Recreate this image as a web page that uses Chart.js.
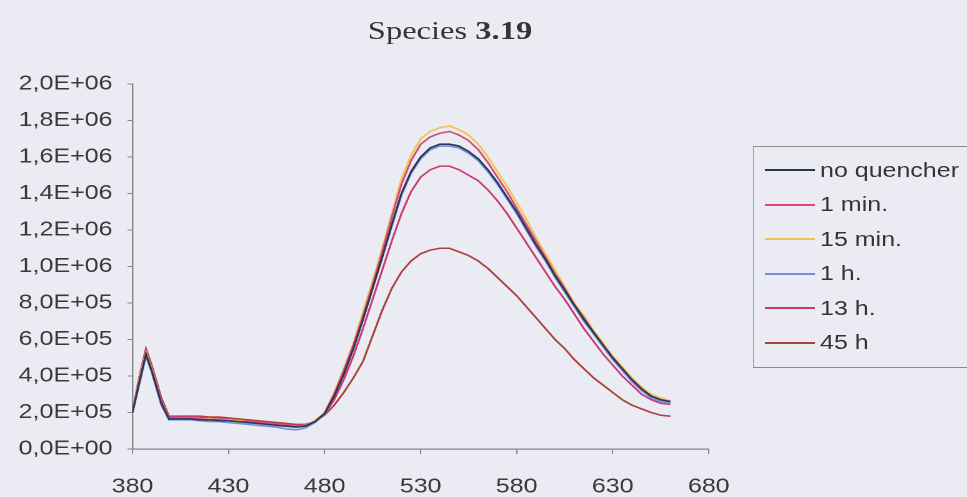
<!DOCTYPE html>
<html>
<head>
<meta charset="utf-8">
<script src="https://cdn.jsdelivr.net/npm/chart.js@4/dist/chart.umd.min.js"></script>
<style>
  html, body { margin: 0; padding: 0; background: #ebebf3; overflow: hidden; }
  body { width: 967px; height: 497px; position: relative; }
  #wrap {
    position: absolute; left: 0; top: 0;
    width: 774px; height: 497px;
    transform: scaleX(1.25); transform-origin: 0 0;
  }
  #box { position: absolute; left: 0; top: 0; width: 774px; height: 497px; }
  #title {
    position: absolute; left: 0; width: 720px; top: 16px;
    text-align: center; font-family: "Liberation Serif", "Times New Roman", serif;
    font-size: 26px; color: #333338;
  }
  #legend {
    position: absolute; left: 602px; top: 146px; width: 200px; height: 222px;
    border: 1px solid #8a8a90; border-right: none; box-sizing: border-box;
    font-family: "Liberation Sans", Arial, sans-serif; font-size: 20px; color: #333338;
    padding-top: 6px;
  }
  .item { height: 34.5px; display: flex; align-items: center; }
  .swatch { width: 40px; height: 0; border-top: 2px solid; margin-left: 9px; margin-right: 4px; }
</style>
</head>
<body>
<div id="wrap">
  <div id="box"><canvas id="c"></canvas></div>
  <div id="title">Species <b>3.19</b></div>
  <div id="legend"></div>
</div>
<script>
// Emission wavelengths (nm)
const wavelengths = [380, 383, 387, 390, 395, 399,
  405, 410, 415, 420, 425, 430, 435, 440, 445, 450,
  455, 460, 465, 470, 475, 480, 485, 490, 495, 500,
  505, 510, 515, 520, 525, 530, 535, 540, 545, 550,
  555, 560, 565, 570, 575, 580, 585, 590, 595, 600,
  605, 610, 615, 620, 625, 630, 635, 640, 645, 650,
  655, 660];

// Intensities, in units of 1E+05
const UNIT = 1e5;
const noQuencher = [2.0, 3.4, 5.2, 4.3, 2.5, 1.65,
  1.65, 1.65, 1.6, 1.6, 1.55, 1.55, 1.5, 1.45, 1.4, 1.35,
  1.3, 1.25, 1.2, 1.25, 1.5, 1.95, 2.9, 4.1, 5.5, 7.1,
  8.8, 10.5, 12.3, 14.0, 15.2, 16.0, 16.5, 16.7, 16.7, 16.6,
  16.3, 15.9, 15.3, 14.6, 13.8, 13.0, 12.1, 11.2, 10.4, 9.5,
  8.7, 7.9, 7.1, 6.4, 5.7, 5.0, 4.4, 3.8, 3.3, 2.9,
  2.7, 2.6];
const min1 = [2.0, 3.5, 5.2, 4.3, 2.6, 1.7,
  1.7, 1.7, 1.65, 1.6, 1.6, 1.55, 1.5, 1.5, 1.45, 1.4,
  1.35, 1.3, 1.25, 1.3, 1.5, 1.95, 3.0, 4.3, 5.7, 7.3,
  9.0, 10.8, 12.7, 14.5, 15.8, 16.7, 17.1, 17.3, 17.4, 17.2,
  16.9, 16.4, 15.7, 14.9, 14.1, 13.2, 12.3, 11.4, 10.5, 9.6,
  8.8, 7.9, 7.2, 6.4, 5.7, 5.0, 4.4, 3.8, 3.3, 2.9,
  2.7, 2.6];
const min15 = [2.0, 3.6, 5.3, 4.4, 2.6, 1.7,
  1.7, 1.7, 1.65, 1.65, 1.6, 1.6, 1.55, 1.5, 1.45, 1.4,
  1.35, 1.3, 1.25, 1.3, 1.55, 2.0, 3.1, 4.4, 5.8, 7.5,
  9.2, 11.0, 12.9, 14.8, 16.1, 17.0, 17.4, 17.6, 17.7, 17.5,
  17.2, 16.7, 16.0, 15.2, 14.4, 13.5, 12.6, 11.6, 10.7, 9.8,
  8.9, 8.0, 7.3, 6.5, 5.8, 5.1, 4.5, 3.9, 3.4, 3.0,
  2.8, 2.65];
const h1 = [2.0, 3.3, 5.1, 4.2, 2.4, 1.6,
  1.6, 1.6, 1.55, 1.5, 1.5, 1.45, 1.4, 1.35, 1.3, 1.25,
  1.2, 1.1, 1.05, 1.15, 1.45, 1.9, 2.9, 4.1, 5.5, 7.1,
  8.8, 10.5, 12.2, 13.9, 15.1, 15.9, 16.4, 16.6, 16.6, 16.5,
  16.2, 15.8, 15.2, 14.5, 13.7, 12.9, 12.0, 11.1, 10.3, 9.4,
  8.6, 7.8, 7.0, 6.3, 5.6, 4.9, 4.3, 3.7, 3.2, 2.8,
  2.6, 2.5];
const h13 = [2.0, 3.6, 5.4, 4.5, 2.7, 1.75,
  1.8, 1.8, 1.75, 1.7, 1.7, 1.65, 1.6, 1.55, 1.5, 1.45,
  1.4, 1.35, 1.3, 1.3, 1.5, 1.9, 2.7, 3.8, 5.1, 6.6,
  8.2, 9.8, 11.4, 12.9, 14.1, 14.9, 15.3, 15.5, 15.5, 15.3,
  15.0, 14.7, 14.2, 13.6, 12.9, 12.1, 11.3, 10.5, 9.7, 8.9,
  8.2, 7.4, 6.6, 5.9, 5.2, 4.6, 4.0, 3.5, 3.0, 2.7,
  2.5, 2.45];
const h45 = [2.0, 3.7, 5.5, 4.6, 2.8, 1.8,
  1.8, 1.8, 1.8, 1.75, 1.75, 1.7, 1.65, 1.6, 1.55, 1.5,
  1.45, 1.4, 1.35, 1.35, 1.5, 1.85, 2.4, 3.1, 3.9, 4.8,
  6.2, 7.6, 8.8, 9.7, 10.3, 10.7, 10.9, 11.0, 11.0, 10.8,
  10.6, 10.3, 9.9, 9.4, 8.9, 8.4, 7.8, 7.2, 6.6, 6.0,
  5.5, 4.9, 4.4, 3.9, 3.5, 3.1, 2.7, 2.4, 2.2, 2.0,
  1.85, 1.8];

const seriesNames = ["no quencher", "1 min.", "15 min.", "1 h.", "13 h.", "45 h"];
const seriesValues = [noQuencher, min1, min15, h1, h13, h45];
const seriesColors = ["#2f3654", "#d8487c", "#f0c64c", "#6d8fe2", "#c93a70", "#a8423c"];

// Y axis: 0 to 2,0E+06 in steps of 2,0E+05
const yMin = 0, yMax = 2e6, yStep = 2e5;
// X axis: 380 to 680 nm in steps of 50
const xMin = 380, xMax = 680, xStep = 50;

function sciLabel(v) {
  if (Math.abs(v) < 1e-9) return "0,0E+00";
  const e = Math.floor(Math.log10(v) + 1e-9);
  const m = v / Math.pow(10, e);
  return m.toFixed(1).replace(".", ",") + "E+" + String(e).padStart(2, "0");
}

const datasets = seriesNames.map((name, i) => ({
  label: name,
  data: wavelengths.map((w, j) => ({ x: w, y: seriesValues[i][j] * UNIT })),
  borderColor: seriesColors[i],
  backgroundColor: seriesColors[i],
  borderWidth: 1.6,
  pointRadius: 0,
  tension: 0,
  fill: false
}));

const axisColor = "#85858c";
const tickFont = { family: "'Liberation Sans', Arial, sans-serif", size: 20 };

new Chart(document.getElementById("c"), {
  type: "line",
  data: { datasets },
  options: {
    responsive: true,
    maintainAspectRatio: false,
    devicePixelRatio: 2,
    animation: false,
    layout: { padding: { left: 0, top: 84, right: 207, bottom: 0 } },
    plugins: { legend: { display: false }, tooltip: { enabled: false }, title: { display: false } },
    scales: {
      x: {
        type: "linear", min: xMin, max: xMax,
        ticks: { stepSize: xStep, color: "#38383e", font: tickFont, padding: 21, maxRotation: 0 },
        grid: { display: true, drawOnChartArea: false, drawTicks: true, tickLength: 5, color: axisColor, lineWidth: 1 },
        border: { display: true, color: axisColor, width: 1.2 },
        afterFit: s => { s.height = 48; }
      },
      y: {
        type: "linear", min: yMin, max: yMax,
        ticks: { stepSize: yStep, color: "#38383e", font: tickFont, padding: 12, callback: v => sciLabel(v) },
        grid: { display: true, drawOnChartArea: false, drawTicks: true, tickLength: 4, color: axisColor, lineWidth: 1 },
        border: { display: true, color: axisColor, width: 1.2 },
        afterFit: s => { s.width = 106; }
      }
    }
  }
});

// Legend entries built from the same series names and colours
const legend = document.getElementById("legend");
seriesNames.forEach((name, i) => {
  const row = document.createElement("div");
  row.className = "item";
  const sw = document.createElement("span");
  sw.className = "swatch";
  sw.style.borderColor = seriesColors[i];
  const tx = document.createElement("span");
  tx.textContent = name;
  row.appendChild(sw); row.appendChild(tx);
  legend.appendChild(row);
});
</script>
</body>
</html>
